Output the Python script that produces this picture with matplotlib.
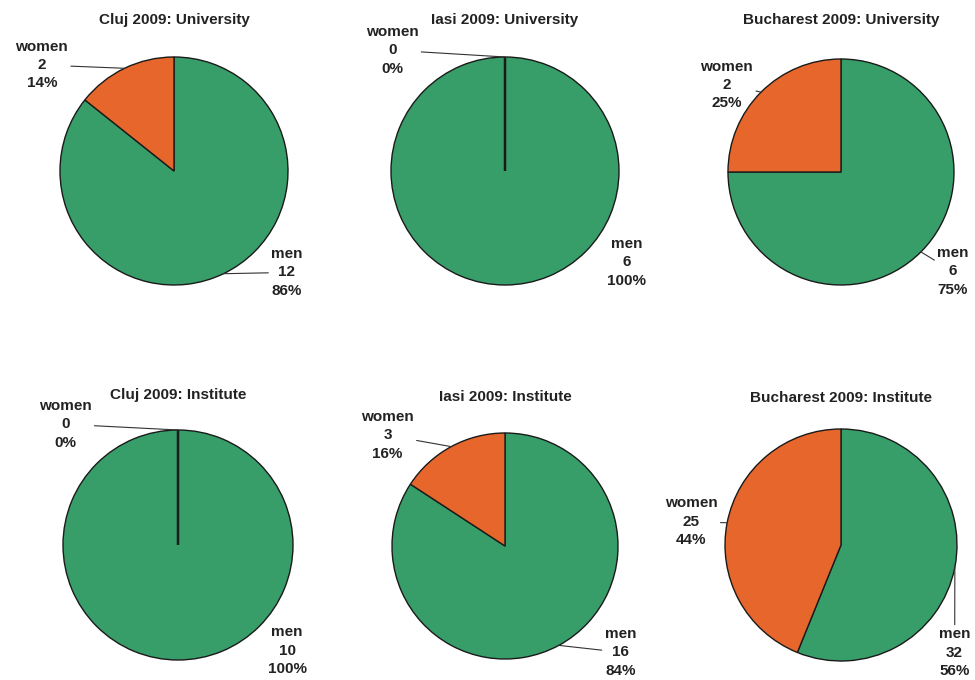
import numpy as np
import matplotlib
matplotlib.use("Agg")
import matplotlib.pyplot as plt

plt.rcParams['font.family'] = ['Liberation Sans', 'DejaVu Sans']

# data
titles = ["Cluj 2009: University", "Iasi 2009: University", "Bucharest 2009: University",
          "Cluj 2009: Institute", "Iasi 2009: Institute", "Bucharest 2009: Institute"]
labels = ["women", "men"]
women = [2, 0, 2, 0, 3, 25]
men = [12, 6, 6, 10, 16, 32]

# layout (pixels): pie centre, radius, title y, label offsets in pie radii
centers = [(174, 171), (505, 171), (841, 172), (178, 545), (505, 546), (841, 545)]
radii = [114, 114, 113, 115, 113, 116]
title_y = [20, 20, 20, 395, 397, 398]
women_pos = [(-1.16, 0.93), (-0.99, 1.06), (-1.01, 0.77), (-0.98, 1.05), (-1.04, 0.98), (-1.29, 0.20)]
men_pos = [(0.99, -0.89), (1.07, -0.80), (0.99, -0.88), (0.95, -0.92), (1.02, -0.94), (0.98, -0.93)]

W, H = 975, 680
BOX = 165
green = "#379e69"
orange = "#e6662b"
txt = "#222222"

fig = plt.figure(figsize=(W / 100, H / 100), dpi=100)

for i in range(6):
    cx, cy = centers[i]
    r = radii[i]
    ax = fig.add_axes([(cx - BOX) / W, 1 - (cy + BOX) / H, 2 * BOX / W, 2 * BOX / H])
    vals = [women[i], men[i]]
    wedges, _ = ax.pie(vals, colors=[orange, green], startangle=90, counterclock=True,
                       wedgeprops=dict(edgecolor="#1a1a1a", linewidth=1.0))
    # keep the (possibly empty) women slice edge visible on top
    wedges[0].set_zorder(3)
    if vals[0] == 0:
        wedges[0].set_linewidth(1.8)
    lim = BOX / r
    ax.set_xlim(-lim, lim)
    ax.set_ylim(-lim, lim)
    ax.set_aspect('auto')
    ax.axis('off')

    total = sum(vals)
    for j, w in enumerate(wedges):
        ang = np.deg2rad((w.theta1 + w.theta2) / 2)
        xy = (np.cos(ang), np.sin(ang))
        pos = women_pos[i] if j == 0 else men_pos[i]
        pct = round(100 * vals[j] / total)
        arrow = None
        if vals[j] != total:
            arrow = dict(arrowstyle='-', color='#333333', lw=0.8, shrinkA=0, shrinkB=0)
        ax.annotate(f"{labels[j]}\n{vals[j]}\n{pct}%", xy=xy, xytext=pos,
                    ha='center', va='center', fontsize=11, fontweight='bold',
                    color=txt, linespacing=1.4, annotation_clip=False,
                    arrowprops=arrow)

    fig.text(cx / W, 1 - title_y[i] / H, titles[i], ha='center', va='center',
             fontsize=11, fontweight='bold', color=txt)

fig.savefig("out.png", dpi=100)
